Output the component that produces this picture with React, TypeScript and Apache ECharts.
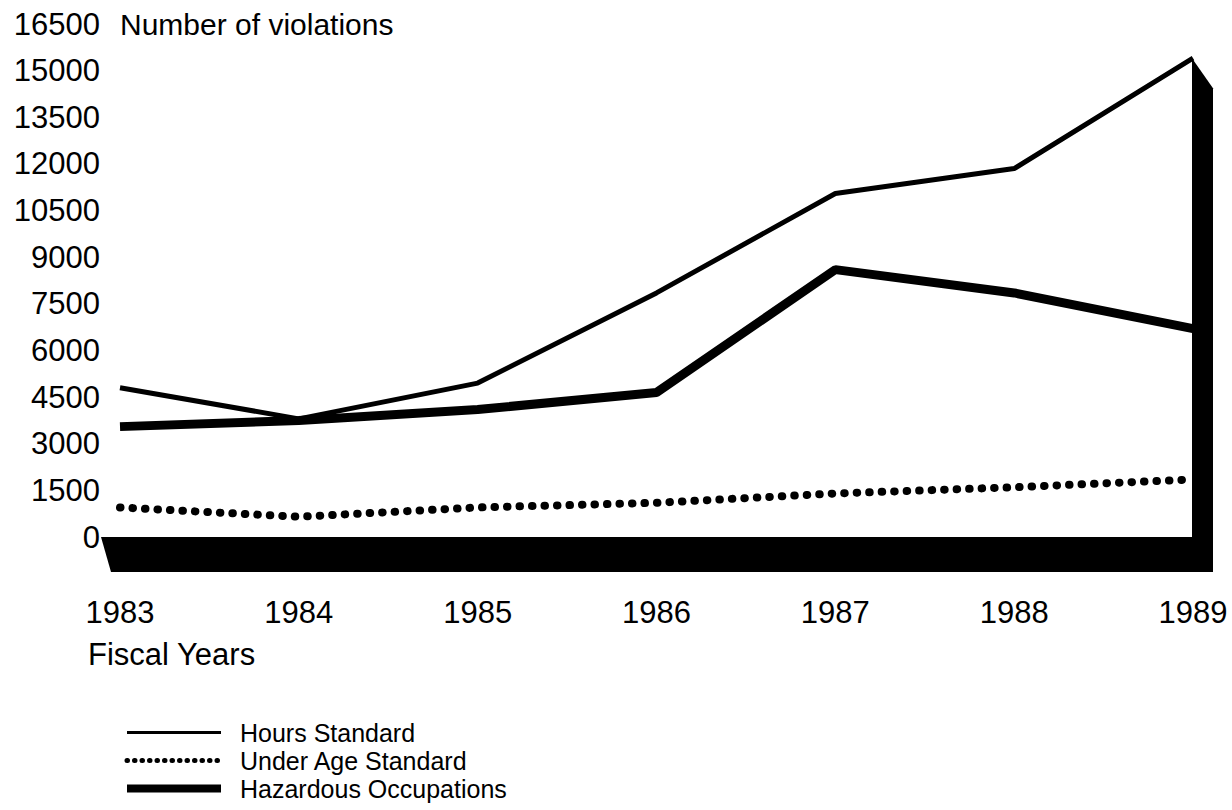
import React, { useEffect, useRef } from "react";
import * as echarts from "echarts";

const years = ["1983", "1984", "1985", "1986", "1987", "1988", "1989"];
const hoursStandard = [4800, 3800, 4950, 7850, 11050, 11850, 15400];
const underAgeStandard = [950, 650, 950, 1100, 1400, 1600, 1850];
const hazardousOccupations = [3550, 3750, 4100, 4650, 8600, 7850, 6700];
const yMin = 0;
const yMax = 16500;
const yStep = 1500;
const seriesNames = ["Hours Standard", "Under Age Standard", "Hazardous Occupations"];
const yTitle = "Number of violations";
const xTitle = "Fiscal Years";

const FONT = "'Liberation Sans', Arial, Helvetica, sans-serif";

export default function App() {
  const ref = useRef<HTMLDivElement>(null);

  useEffect(() => {
    if (!ref.current) return;
    const chart = echarts.init(ref.current, null, { renderer: "svg" });
    const option: any = {
      animation: false,
      backgroundColor: "#ffffff",
      textStyle: { fontFamily: FONT, color: "#000" },
      grid: { left: 120, right: 39, top: 24, bottom: 273, containLabel: false },
      xAxis: {
        type: "category",
        data: years,
        boundaryGap: false,
        axisLine: { show: false },
        axisTick: { show: false },
        splitLine: { show: false },
        axisLabel: { color: "#000", fontSize: 31, fontFamily: FONT, margin: 60 },
      },
      yAxis: {
        type: "value",
        min: yMin,
        max: yMax,
        interval: yStep,
        name: yTitle,
        nameLocation: "end",
        nameGap: 0,
        nameTextStyle: {
          color: "#000",
          fontSize: 30,
          fontFamily: FONT,
          align: "left",
          verticalAlign: "middle",
          padding: [0, 0, 0, 0],
        },
        axisLine: { show: false },
        axisTick: { show: false },
        splitLine: { show: false },
        axisLabel: {
          color: "#000",
          fontSize: 31,
          fontFamily: FONT,
          margin: 20,
          formatter: (v: number) => String(v),
        },
      },
      legend: {
        orient: "vertical",
        left: 123,
        top: 720,
        padding: 0,
        itemGap: 3,
        itemWidth: 94,
        itemHeight: 10,
        itemStyle: { opacity: 0 },
        textStyle: { color: "#000", fontSize: 25, fontFamily: FONT, padding: [0, 0, 0, 14] },
        lineStyle: { width: "inherit" },
        data: [
          { name: seriesNames[0], lineStyle: { width: 3 } },
          { name: seriesNames[1], lineStyle: { width: 5, type: [0.5, 7], cap: "round" } },
          { name: seriesNames[2], lineStyle: { width: 8 } },
        ],
      },
      series: [
        {
          name: seriesNames[0],
          type: "line",
          data: hoursStandard,
          symbol: "none",
          lineStyle: { color: "#000", width: 5 },
          itemStyle: { color: "#000" },
          z: 3,
        },
        {
          name: seriesNames[1],
          type: "line",
          data: underAgeStandard,
          symbol: "none",
          lineStyle: { color: "#000", width: 8, type: [0.5, 12], cap: "round" },
          itemStyle: { color: "#000" },
          z: 2,
        },
        {
          name: seriesNames[2],
          type: "line",
          data: hazardousOccupations,
          symbol: "none",
          lineStyle: { color: "#000", width: 9 },
          itemStyle: { color: "#000" },
          z: 4,
        },
      ],
    };
    chart.setOption(option);

    const last = years.length - 1;
    const p0 = chart.convertToPixel({ xAxisIndex: 0, yAxisIndex: 0 }, [0, yMin]) as number[];
    const pN = chart.convertToPixel({ xAxisIndex: 0, yAxisIndex: 0 }, [last, yMin]) as number[];
    const pTop = chart.convertToPixel({ xAxisIndex: 0, yAxisIndex: 0 }, [last, hoursStandard[last]]) as number[];
    const x0 = p0[0];
    const y0 = p0[1];
    const xN = pN[0];
    const depth = 20;
    const baseH = 35;

    chart.setOption({
      graphic: [
        {
          type: "polygon",
          z: 10,
          shape: {
            points: [
              [x0 - 19, y0],
              [xN + depth, y0],
              [xN + depth, y0 + baseH],
              [x0 - 9, y0 + baseH],
            ],
          },
          style: { fill: "#000" },
        },
        {
          type: "polygon",
          z: 10,
          shape: {
            points: [
              [xN - 1, pTop[1]],
              [xN + depth, pTop[1] + 30],
              [xN + depth, y0 + baseH],
              [xN - 1, y0],
            ],
          },
          style: { fill: "#000" },
        },
        {
          type: "text",
          left: 88,
          top: 639,
          style: { text: xTitle, fill: "#000", fontSize: 31, fontFamily: FONT },
        },
      ],
    });

    return () => chart.dispose();
  }, []);

  return (
    <div
      ref={ref}
      style={{ position: "fixed", left: 0, top: 0, width: 1232, height: 810, background: "#fff" }}
    />
  );
}
